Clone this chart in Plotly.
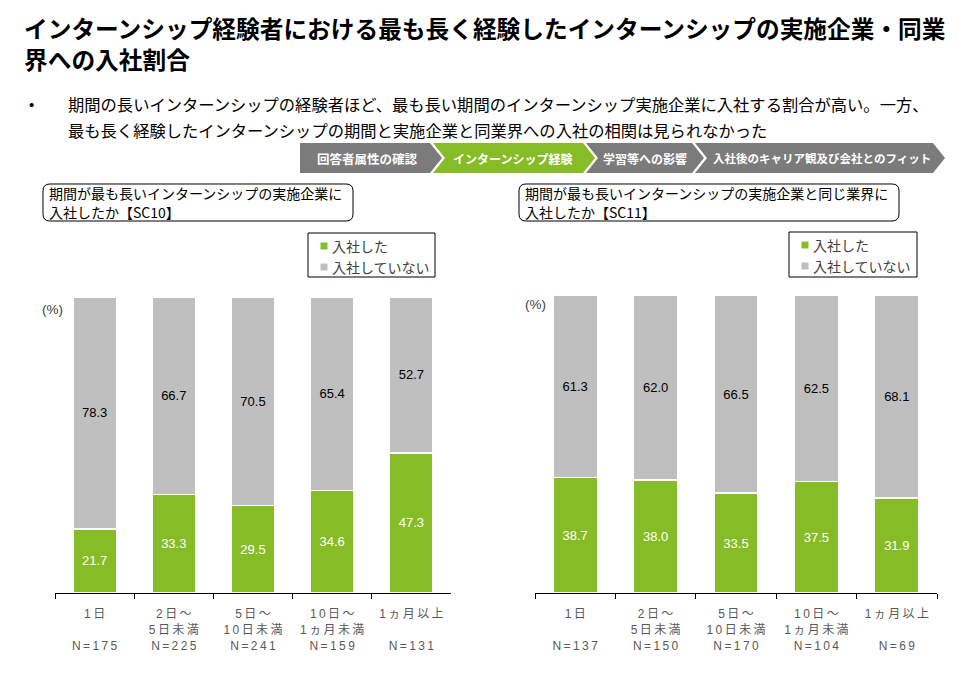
import plotly.graph_objects as go

# ---------------- data ----------------
cat_line1 = ["1日", "2日～", "5日～", "10日～", "1ヵ月以上"]
cat_line2 = ["", "5日未満", "10日未満", "1ヵ月未満", ""]
categories = ["1日", "2日～5日未満", "5日～10日未満", "10日～1ヵ月未満", "1ヵ月以上"]

n_sc10 = [175, 225, 241, 159, 131]
joined_sc10 = [21.7, 33.3, 29.5, 34.6, 47.3]
not_joined_sc10 = [78.3, 66.7, 70.5, 65.4, 52.7]

n_sc11 = [137, 150, 170, 104, 69]
joined_sc11 = [38.7, 38.0, 33.5, 37.5, 31.9]
not_joined_sc11 = [61.3, 62.0, 66.5, 62.5, 68.1]

series_names = ["入社した", "入社していない"]

title_lines = ["インターンシップ経験者における最も長く経験したインターンシップの実施企業・同業",
               "界への入社割合"]
bullet_lines = ["期間の長いインターンシップの経験者ほど、最も長い期間のインターンシップ実施企業に入社する割合が高い。一方、",
                "最も長く経験したインターンシップの期間と実施企業と同業界への入社の相関は見られなかった"]
steps = ["回答者属性の確認", "インターンシップ経験", "学習等への影響", "入社後のキャリア観及び会社とのフィット"]
box_sc10 = ["期間が最も長いインターンシップの実施企業に", "入社したか【SC10】"]
box_sc11 = ["期間が最も長いインターンシップの実施企業と同じ業界に", "入社したか【SC11】"]

# ---------------- style ----------------
W, H = 980, 676
OFF = 8  # page body margin: figure starts 8px from the window's corner
GREEN = "#86bc25"
GRAY = "#bfbfbf"
BANNER_GRAY = "#7b7b7b"
FONT = "Liberation Sans, Noto Sans CJK JP, sans-serif"
JFONT = "Noto Sans CJK JP, sans-serif"


def px(x):
    return (x - OFF) / W


def py(y):
    return 1 - (y - OFF) / H


def spaced(s):
    return "\u2009".join(list(s)) if s else " "


def ticktexts(ns):
    return [spaced(a) + "<br>" + spaced(b) + "<br>" + spaced("N=%d" % n)
            for a, b, n in zip(cat_line1, cat_line2, ns)]


fig = go.Figure()

panels = [
    ("x", "y", joined_sc10, not_joined_sc10),
    ("x2", "y2", joined_sc11, not_joined_sc11),
]
for xa, ya, joined, notj in panels:
    fig.add_trace(go.Bar(
        x=categories, y=joined, name=series_names[0], xaxis=xa, yaxis=ya,
        marker=dict(color=GREEN, line=dict(color="white", width=1.5)),
        width=0.55, texttemplate="%{y:.1f}", textposition="inside",
        insidetextanchor="middle", textangle=0, constraintext="none",
        textfont=dict(color="white", size=13, family=FONT),
        showlegend=False, hoverinfo="skip"))
    fig.add_trace(go.Bar(
        x=categories, y=notj, name=series_names[1], xaxis=xa, yaxis=ya,
        marker=dict(color=GRAY, line=dict(color="white", width=1.5)),
        width=0.55, texttemplate="%{y:.1f}", textposition="inside",
        insidetextanchor="middle", textangle=0, constraintext="none",
        textfont=dict(color="black", size=13, family=FONT),
        showlegend=False, hoverinfo="skip"))

xcommon = dict(type="category", range=[-0.5, 4.5], showline=True, linecolor="black",
               linewidth=1, ticks="outside", tickson="boundaries", ticklen=5,
               tickcolor="black", showgrid=False, zeroline=False, fixedrange=True,
               tickvals=categories, ticklabelstandoff=10,
               tickfont=dict(size=12, color="#595959", family=FONT))
ycommon = dict(range=[0, 100], visible=False, fixedrange=True)

fig.update_layout(
    width=W, height=H, autosize=False,
    margin=dict(l=0, r=0, t=0, b=0),
    paper_bgcolor="white", plot_bgcolor="white",
    barmode="stack", showlegend=False,
    font=dict(family=FONT, color="black"),
    xaxis=dict(domain=[px(55), px(451)], anchor="y", ticktext=ticktexts(n_sc10), **xcommon),
    yaxis=dict(domain=[py(593), py(297)], anchor="x", **ycommon),
    xaxis2=dict(domain=[px(535), px(937)], anchor="y2", ticktext=ticktexts(n_sc11), **xcommon),
    yaxis2=dict(domain=[py(593), py(295)], anchor="x2", **ycommon),
)

shapes = []
annotations = []


def text(x, y, s, size, color="black", anchor="left", bold=False, family=FONT):
    annotations.append(dict(
        x=px(x), y=py(y), xref="paper", yref="paper", text=s, showarrow=False,
        xanchor=anchor, yanchor="middle", align=anchor if anchor != "center" else "center",
        font=dict(size=size, color=color, family=family, weight="bold" if bold else "normal")))


# title (two lines in one text block)
text(22, 46, "<br>".join(title_lines), 23.7, bold=True, family=FONT)

# bullet
text(27, 104, "•", 15)
text(66, 104, bullet_lines[0], 16.3, family=JFONT)
text(66, 130, bullet_lines[1], 16.3, family=JFONT)

# banner chevrons
top, bot, mid = 143, 173, 158
segs = [(300, 430, False, BANNER_GRAY), (433, 583, True, GREEN),
        (586, 692, True, BANNER_GRAY), (695, 933, True, BANNER_GRAY)]
centers = [367, 513, 645, 822]
sizes = [12.5, 12, 12, 11.5]
for (x0, x1, notch, col), c, s, lab in zip(segs, centers, sizes, steps):
    pts = [(x0, top), (x1, top), (x1 + 12, mid), (x1, bot), (x0, bot)]
    if notch:
        pts.append((x0 + 12, mid))
    path = "M " + " L ".join("%f,%f" % (px(a), py(b)) for a, b in pts) + " Z"
    shapes.append(dict(type="path", path=path, xref="paper", yref="paper",
                       fillcolor=col, line=dict(width=0), layer="below"))
    text(c, mid, lab, s, color="white", anchor="center", bold=True, family=JFONT)


# rounded boxes with question text
def rounded(x0, y0, x1, y1, r=7):
    p = [
        "M %f,%f" % (px(x0 + r), py(y0)),
        "L %f,%f" % (px(x1 - r), py(y0)),
        "Q %f,%f %f,%f" % (px(x1), py(y0), px(x1), py(y0 + r)),
        "L %f,%f" % (px(x1), py(y1 - r)),
        "Q %f,%f %f,%f" % (px(x1), py(y1), px(x1 - r), py(y1)),
        "L %f,%f" % (px(x0 + r), py(y1)),
        "Q %f,%f %f,%f" % (px(x0), py(y1), px(x0), py(y1 - r)),
        "L %f,%f" % (px(x0), py(y0 + r)),
        "Q %f,%f %f,%f" % (px(x0), py(y0), px(x0 + r), py(y0)),
        "Z",
    ]
    shapes.append(dict(type="path", path=" ".join(p), xref="paper", yref="paper",
                       line=dict(color="black", width=1), fillcolor="rgba(0,0,0,0)"))


rounded(43, 184, 353, 221)
text(47, 193, box_sc10[0], 14, family=JFONT)
text(47, 212, box_sc10[1], 14, family=JFONT)
rounded(519, 184, 899, 221)
text(523, 193, box_sc11[0], 14, family=JFONT)
text(523, 212, box_sc11[1], 14, family=JFONT)


# custom legends
def legend(x0, y0, x1, y1, sq_x, txt_x):
    shapes.append(dict(type="rect", xref="paper", yref="paper",
                       x0=px(x0), x1=px(x1), y0=py(y1), y1=py(y0),
                       line=dict(color="black", width=1), fillcolor="white"))
    for yy, col, name in [(y0 + 13, GREEN, series_names[0]), (y0 + 34, GRAY, series_names[1])]:
        shapes.append(dict(type="rect", xref="paper", yref="paper",
                           x0=px(sq_x - 3.5), x1=px(sq_x + 3.5), y0=py(yy + 3.5), y1=py(yy - 3.5),
                           line=dict(width=0), fillcolor=col))
        text(txt_x, yy, name, 14, color="#404040", family=JFONT)


legend(308, 233, 435, 277, 324, 330)
legend(789, 232, 917, 277, 805, 811)

# (%) labels
text(40, 310, "(%)", 13.5, color="#404040")
text(523, 304, "(%)", 13.5, color="#404040")

fig.update_layout(shapes=shapes, annotations=annotations)
fig.write_html("out.html")
